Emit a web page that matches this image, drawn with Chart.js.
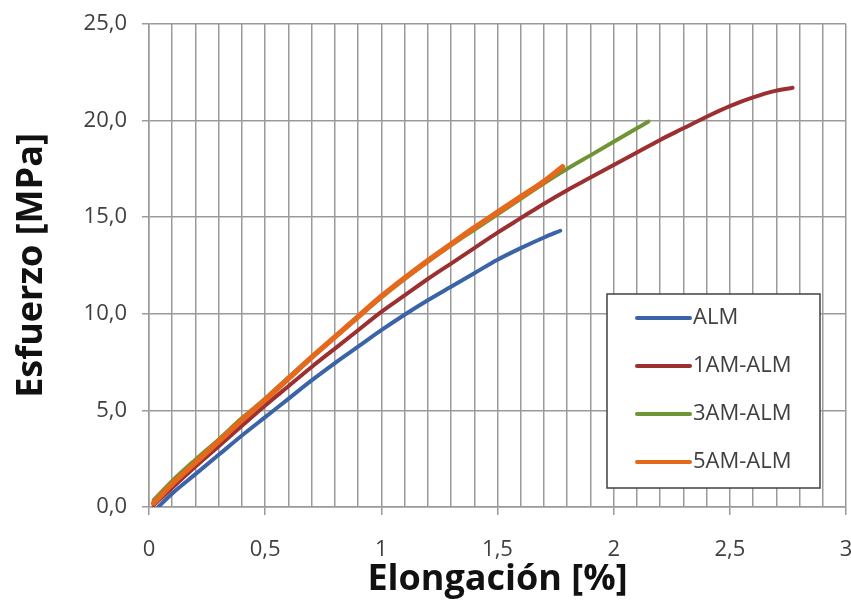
<!DOCTYPE html>
<html>
<head>
<meta charset="utf-8">
<script src="https://cdn.jsdelivr.net/npm/chart.js@4.4.1/dist/chart.umd.min.js"></script>
<style>
  html, body { margin: 0; padding: 0; background: #ffffff; }
  #wrap { width: 851px; height: 603px; }
</style>
</head>
<body>
<div id="wrap"><canvas id="c" width="851" height="603"></canvas></div>
<script>
// Series names
const seriesNames = ['ALM', '1AM-ALM', '3AM-ALM', '5AM-ALM'];

// Elongación [%] / Esfuerzo [MPa] for each specimen
const almStrain = [0.04, 0.1, 0.2, 0.3, 0.4, 0.5, 0.6, 0.7, 0.8, 0.9, 1.0, 1.1, 1.2, 1.3, 1.4, 1.5, 1.6, 1.7, 1.77];
const almStress = [0.0, 0.7, 1.7, 2.7, 3.7, 4.65, 5.6, 6.55, 7.45, 8.3, 9.15, 9.95, 10.7, 11.4, 12.1, 12.8, 13.4, 13.95, 14.3];

const am1Strain = [0.02, 0.1, 0.2, 0.3, 0.4, 0.5, 0.6, 0.7, 0.8, 0.9, 1.0, 1.1, 1.2, 1.3, 1.4, 1.5, 1.6, 1.7, 1.8, 1.9, 2.0, 2.1, 2.2, 2.3, 2.4, 2.5, 2.6, 2.7, 2.77];
const am1Stress = [0.1, 1.0, 2.1, 3.15, 4.2, 5.25, 6.25, 7.25, 8.2, 9.15, 10.1, 10.95, 11.8, 12.6, 13.4, 14.2, 14.95, 15.7, 16.4, 17.05, 17.7, 18.35, 19.0, 19.6, 20.2, 20.75, 21.2, 21.55, 21.7];

const am3Strain = [0.02, 0.1, 0.2, 0.3, 0.4, 0.5, 0.6, 0.7, 0.8, 0.9, 1.0, 1.1, 1.2, 1.3, 1.4, 1.5, 1.6, 1.7, 1.8, 1.9, 2.0, 2.1, 2.15];
const am3Stress = [0.35, 1.35, 2.45, 3.5, 4.6, 5.6, 6.7, 7.75, 8.8, 9.85, 10.85, 11.8, 12.7, 13.55, 14.35, 15.15, 15.95, 16.75, 17.5, 18.2, 18.9, 19.6, 19.95];

const am5Strain = [0.02, 0.1, 0.2, 0.3, 0.4, 0.5, 0.6, 0.7, 0.8, 0.9, 1.0, 1.1, 1.2, 1.3, 1.4, 1.5, 1.6, 1.7, 1.78];
const am5Stress = [0.2, 1.2, 2.3, 3.4, 4.5, 5.55, 6.65, 7.75, 8.8, 9.85, 10.9, 11.85, 12.75, 13.6, 14.45, 15.25, 16.05, 16.85, 17.6];

// Axis settings
const xMin = 0, xMax = 3, xGridStep = 0.1, xLabelStep = 0.5;
const yMin = 0, yMax = 25, yStep = 5;

const colors = ['#3b64a8', '#9c2f30', '#6e9434', '#e4691c'];
const widths = [4, 4, 4, 5.5];

function toPoints(xs, ys) { return xs.map((x, i) => ({ x: x, y: ys[i] })); }
const seriesPoints = [
  toPoints(almStrain, almStress),
  toPoints(am1Strain, am1Stress),
  toPoints(am3Strain, am3Stress),
  toPoints(am5Strain, am5Stress)
];

const commaNum = (v, digits) => v.toFixed(digits).replace('.', ',');
const isLabelTick = v => Math.abs(v / xLabelStep - Math.round(v / xLabelStep)) < 1e-6;

// Boxed legend inside the plot area, lower right
const boxLegend = {
  id: 'boxLegend',
  afterDatasetsDraw(chart) {
    const ctx = chart.ctx;
    const left = 607, top = 294, w = 213, h = 194;
    ctx.save();
    ctx.fillStyle = '#ffffff';
    ctx.fillRect(left, top, w, h);
    ctx.strokeStyle = '#404040';
    ctx.lineWidth = 1.5;
    ctx.strokeRect(left, top, w, h);
    ctx.font = '22px "Open Sans"';
    ctx.textBaseline = 'middle';
    ctx.textAlign = 'left';
    chart.data.datasets.forEach((ds, i) => {
      const y = top + 24 + i * 48;
      ctx.strokeStyle = ds.borderColor;
      ctx.lineWidth = 4;
      ctx.lineCap = 'round';
      ctx.beginPath();
      ctx.moveTo(left + 30, y);
      ctx.lineTo(left + 83, y);
      ctx.stroke();
      ctx.fillStyle = '#404040';
      ctx.fillText(ds.label, left + 86, y);
    });
    ctx.restore();
  }
};

const noEdgePadding = s => { s.paddingLeft = 0; s.paddingRight = 0; s.paddingTop = 0; s.paddingBottom = 0; };

new Chart(document.getElementById('c'), {
  type: 'line',
  data: {
    datasets: seriesNames.map((name, i) => ({
      label: name,
      data: seriesPoints[i],
      borderColor: colors[i],
      backgroundColor: colors[i],
      borderWidth: widths[i],
      pointRadius: 0,
      cubicInterpolationMode: 'monotone',
      borderCapStyle: 'round',
      fill: false,
      order: 3 - i
    }))
  },
  options: {
    responsive: false,
    animation: false,
    layout: { padding: { top: 24, right: 5, left: 0, bottom: 0 } },
    plugins: { legend: { display: false }, tooltip: { enabled: false } },
    scales: {
      x: {
        type: 'linear',
        min: xMin, max: xMax,
        afterFit: s => { s.height = 96; noEdgePadding(s); },
        border: { display: true, color: '#999999', width: 1.5 },
        grid: {
          color: '#9a9a9a',
          lineWidth: 1.5,
          tickLength: 8,
          tickColor: c => (c.tick && isLabelTick(c.tick.value)) ? '#9a9a9a' : 'rgba(0,0,0,0)'
        },
        ticks: {
          stepSize: xGridStep,
          autoSkip: false,
          maxRotation: 0,
          padding: 22,
          color: '#404040',
          font: { family: 'Open Sans', size: 22 },
          callback: v => {
            if (!isLabelTick(v)) return '';
            return Number.isInteger(Math.round(v * 1e6) / 1e6) ? String(Math.round(v)) : commaNum(v, 1);
          }
        },
        title: {
          display: true,
          text: 'Elongación [%]',
          color: '#111111',
          font: { family: 'Open Sans', size: 36, weight: 'bold', lineHeight: 1 },
          padding: { top: 0, bottom: 5 }
        }
      },
      y: {
        type: 'linear',
        min: yMin, max: yMax,
        afterFit: s => { s.width = 149; noEdgePadding(s); },
        border: { display: true, color: '#999999', width: 1.5 },
        grid: { color: '#9a9a9a', lineWidth: 1.5, tickLength: 7 },
        ticks: {
          stepSize: yStep,
          padding: 15,
          color: '#404040',
          font: { family: 'Open Sans', size: 22 },
          callback: v => commaNum(v, 1)
        },
        title: {
          display: true,
          text: 'Esfuerzo [MPa]',
          color: '#111111',
          font: { family: 'Open Sans', size: 36, weight: 'bold', lineHeight: 1 },
          padding: { top: 14, bottom: 0 }
        }
      }
    }
  },
  plugins: [boxLegend]
});
</script>
</body>
</html>
